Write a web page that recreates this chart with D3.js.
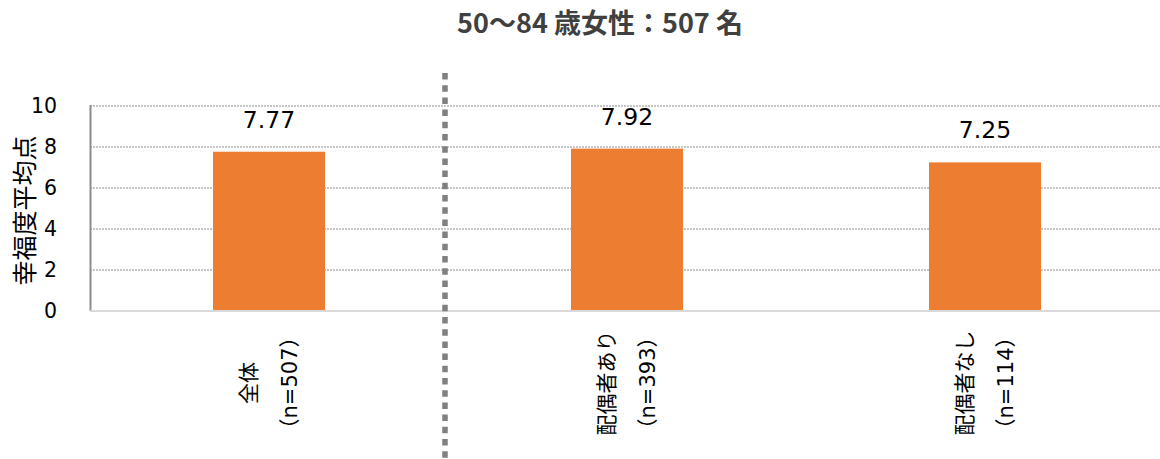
<!DOCTYPE html>
<html>
<head>
<meta charset="utf-8">
<script src="https://cdn.jsdelivr.net/npm/d3@7"></script>
<style>
  html, body { margin: 0; padding: 0; background: #fff; }
  svg { display: block; }
</style>
</head>
<body>
<div id="chart"></div>
<script>
// Happiness score averages for women aged 50-84
const categories = ["全体", "配偶者あり", "配偶者なし"];
const sampleSizes = ["（n=507）", "（n=393）", "（n=114）"];
const values = [7.77, 7.92, 7.25];
const yTicks = [0, 2, 4, 6, 8, 10];
const title = "50～84 歳女性：507 名";
const yLabel = "幸福度平均点";

const W = 1160, H = 459;
const plot = { left: 90, right: 1164, top: 106, bottom: 311 };
const fontLatin = "'DejaVu Sans', 'Noto Sans CJK JP', sans-serif";
const fontCJK = "'Noto Sans CJK JP', sans-serif";

const svg = d3.select("#chart").append("svg")
  .attr("width", W).attr("height", H);

const x = d3.scaleBand()
  .domain(categories)
  .range([plot.left, plot.right])
  .paddingInner(0.687)
  .paddingOuter(0.3435);

const y = d3.scaleLinear()
  .domain([0, 10])
  .range([plot.bottom, plot.top]);

// Title
svg.append("text")
  .attr("x", 600).attr("y", 33)
  .attr("text-anchor", "middle")
  .attr("font-family", fontCJK)
  .attr("font-weight", "bold")
  .attr("font-size", 27)
  .attr("fill", "#404040")
  .text(title);

// Horizontal dotted gridlines
svg.append("g")
  .selectAll("line")
  .data(yTicks.filter(d => d > 0))
  .join("line")
  .attr("x1", plot.left).attr("x2", W)
  .attr("y1", d => y(d)).attr("y2", d => y(d))
  .attr("stroke", "#b4b4b4")
  .attr("stroke-width", 1.5)
  .attr("stroke-dasharray", "2,1");

// Y axis with tick labels
const yAxis = d3.axisLeft(y).tickValues(yTicks).tickSize(0).tickPadding(33);
const gy = svg.append("g")
  .attr("transform", `translate(${plot.left},0)`)
  .call(yAxis);
gy.select(".domain").remove();
gy.selectAll("text")
  .attr("font-family", fontLatin)
  .attr("font-size", 20.5)
  .attr("fill", "#000");

// Left axis line
svg.append("line")
  .attr("x1", plot.left + 0.5).attr("x2", plot.left + 0.5)
  .attr("y1", y(10) - 1).attr("y2", y(0))
  .attr("stroke", "#8c8c8c").attr("stroke-width", 2);

// Y axis title
svg.append("text")
  .attr("transform", `translate(34,${(plot.top + plot.bottom) / 2 + 2}) rotate(-90)`)
  .attr("text-anchor", "middle")
  .attr("font-family", fontCJK)
  .attr("font-size", 25)
  .attr("fill", "#000")
  .text(yLabel);

// Bars
svg.append("g")
  .selectAll("rect")
  .data(values)
  .join("rect")
  .attr("x", (d, i) => x(categories[i]))
  .attr("width", x.bandwidth())
  .attr("y", d => y(d))
  .attr("height", d => y(0) - y(d))
  .attr("fill", "#ED7D31");

// Bottom axis line
svg.append("line")
  .attr("x1", plot.left).attr("x2", W)
  .attr("y1", y(0)).attr("y2", y(0))
  .attr("stroke", "#d9d9d9").attr("stroke-width", 2);

// Value labels
svg.append("g")
  .selectAll("text")
  .data(values)
  .join("text")
  .attr("x", (d, i) => x(categories[i]) + x.bandwidth() / 2)
  .attr("y", d => y(d) - 24)
  .attr("text-anchor", "middle")
  .attr("font-family", fontLatin)
  .attr("font-size", 23.5)
  .attr("fill", "#000")
  .text(d => d.toFixed(2));

// Rotated two-line category labels
const catG = svg.append("g")
  .selectAll("g")
  .data(categories)
  .join("g")
  .attr("transform", d => `translate(${x(d) + x.bandwidth() / 2},383) rotate(-90)`);

catG.append("text")
  .attr("x", 0).attr("y", -20)
  .attr("text-anchor", "middle")
  .attr("dominant-baseline", "central")
  .attr("font-family", fontLatin)
  .attr("font-size", 21)
  .attr("fill", "#000")
  .text(d => d);

catG.append("text")
  .attr("x", 0).attr("y", 21)
  .attr("text-anchor", "middle")
  .attr("dominant-baseline", "central")
  .attr("font-family", fontLatin)
  .attr("font-size", 21)
  .attr("fill", "#000")
  .text((d, i) => sampleSizes[i]);

// Dotted separator between the total and the marital-status groups
const sepX = (x(categories[0]) + x.bandwidth() + x(categories[1])) / 2 - 3;
svg.append("line")
  .attr("x1", sepX).attr("x2", sepX)
  .attr("y1", 73).attr("y2", H)
  .attr("stroke", "#808080")
  .attr("stroke-width", 5.5)
  .attr("stroke-dasharray", "6.5,5.7");
</script>
</body>
</html>
